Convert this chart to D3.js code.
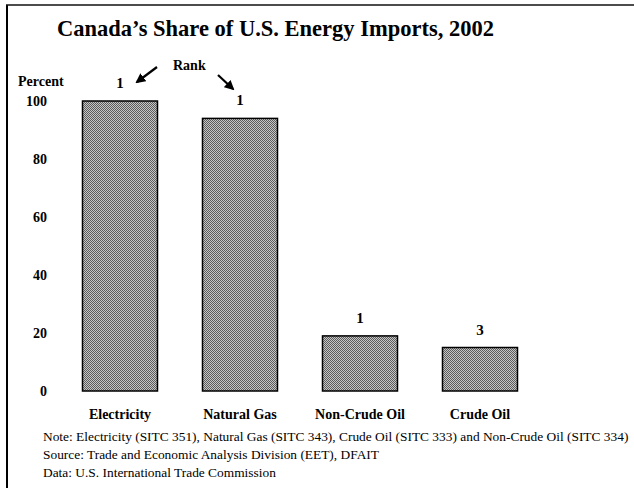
<!DOCTYPE html>
<html>
<head>
<meta charset="utf-8">
<script src="https://cdn.jsdelivr.net/npm/d3@7/dist/d3.min.js"></script>
<style>
  body { margin: 0; background: #fff; }
  svg text { font-family: "Liberation Serif", "Times New Roman", serif; fill: #000; }
</style>
</head>
<body>
<div id="chart"></div>
<script>
// data
const categories = ['Electricity', 'Natural Gas', 'Non-Crude Oil', 'Crude Oil'];
const shares = [100, 94, 19, 15];
const ranks = ['1', '1', '1', '3'];
const yTicks = [0, 20, 40, 60, 80, 100];
const notes = [
    'Note: Electricity (SITC 351), Natural Gas (SITC 343), Crude Oil (SITC 333) and Non-Crude Oil (SITC 334)',
    'Source: Trade and Economic Analysis Division (EET), DFAIT',
    'Data: U.S. International Trade Commission'
];

const width = 634;
const height = 488;
const serif = '"Liberation Serif", "Times New Roman", serif';

let svg = d3.select('#chart')
    .append('svg')
    .attr('width', width)
    .attr('height', height);

let defs = svg.append('defs');

// halftone-like fill for the bars
let pattern = defs.append('pattern')
    .attr('id', 'dither')
    .attr('patternUnits', 'userSpaceOnUse')
    .attr('width', 2)
    .attr('height', 2);
pattern.append('rect').attr('width', 2).attr('height', 2).style('fill', '#c6c6c6');
pattern.append('rect').attr('width', 1).attr('height', 1).style('fill', '#5c5c5c');
pattern.append('rect').attr('x', 1).attr('y', 1).attr('width', 1).attr('height', 1).style('fill', '#5c5c5c');

defs.append('marker')
    .attr('id', 'arrow')
    .attr('viewBox', '0 0 10 10')
    .attr('refX', 8).attr('refY', 5)
    .attr('markerWidth', 4.5).attr('markerHeight', 4.5)
    .attr('orient', 'auto')
    .append('path')
    .attr('d', 'M0,0L10,5L0,10z')
    .style('fill', '#000');

// frame (left and top rule)
svg.append('line')
    .attr('x1', 7).attr('x2', 7).attr('y1', 5).attr('y2', height)
    .style('stroke', '#000').style('stroke-width', 2);
svg.append('line')
    .attr('x1', 6).attr('x2', width).attr('y1', 5).attr('y2', 5)
    .style('stroke', '#111').style('stroke-width', 1.6);

svg.append('text')
    .attr('x', 57)
    .attr('y', 36)
    .style('font-family', serif)
    .style('font-size', '22.5px')
    .style('font-weight', 'bold')
    .text('Canada\u2019s Share of U.S. Energy Imports, 2002');

let x = d3.scaleBand()
    .domain(categories)
    .range([60, 540])
    .paddingInner(0.375)
    .paddingOuter(0.1875);

let y = d3.scaleLinear()
    .domain([0, 100])
    .range([391, 101]);

// y axis: labels only
let yAxis = svg.append('g')
    .attr('transform', 'translate(47,0)')
    .call(d3.axisLeft(y).tickValues(yTicks).tickSize(0).tickPadding(0).tickFormat(d3.format('d')));
yAxis.attr('font-family', null);
yAxis.select('.domain').remove();
yAxis.selectAll('text')
    .style('font-family', serif)
    .style('font-size', '14px')
    .style('font-weight', 'bold');

svg.append('text')
    .attr('x', 18)
    .attr('y', 86)
    .style('font-family', serif)
    .style('font-size', '14px')
    .style('font-weight', 'bold')
    .text('Percent');

// bars
svg.selectAll('.bar')
    .data(categories)
    .enter()
    .append('rect')
    .classed('bar', true)
    .attr('x', d => x(d))
    .attr('width', x.bandwidth())
    .attr('y', (d, i) => y(shares[i]))
    .attr('height', (d, i) => y(0) - y(shares[i]))
    .style('fill', 'url(#dither)')
    .style('stroke', '#000')
    .style('stroke-width', 1.5);

// rank labels
svg.selectAll('.rank')
    .data(categories)
    .enter()
    .append('text')
    .classed('rank', true)
    .attr('x', d => x(d) + x.bandwidth() / 2)
    .attr('y', (d, i) => y(shares[i]) - 13)
    .attr('text-anchor', 'middle')
    .style('font-family', serif)
    .style('font-size', '15px')
    .style('font-weight', 'bold')
    .text((d, i) => ranks[i]);

// category labels
svg.selectAll('.cat')
    .data(categories)
    .enter()
    .append('text')
    .classed('cat', true)
    .attr('x', d => x(d) + x.bandwidth() / 2)
    .attr('y', 419)
    .attr('text-anchor', 'middle')
    .style('font-family', serif)
    .style('font-size', '14px')
    .style('font-weight', 'bold')
    .text(d => d);

// "Rank" callout with arrows
svg.append('text')
    .attr('x', 173)
    .attr('y', 70)
    .style('font-family', serif)
    .style('font-size', '14px')
    .style('font-weight', 'bold')
    .text('Rank');

let arrows = [[157, 67, 137, 82], [218, 75, 233, 89]];
svg.selectAll('.arrow')
    .data(arrows)
    .enter()
    .append('line')
    .classed('arrow', true)
    .attr('x1', d => d[0]).attr('y1', d => d[1])
    .attr('x2', d => d[2]).attr('y2', d => d[3])
    .style('stroke', '#000')
    .style('stroke-width', 2.2)
    .attr('marker-end', 'url(#arrow)');

// footnotes
svg.selectAll('.note')
    .data(notes)
    .enter()
    .append('text')
    .classed('note', true)
    .attr('x', 43)
    .attr('y', (d, i) => 441 + i * 18)
    .style('font-family', serif)
    .style('font-size', '13.4px')
    .text(d => d);
</script>
</body>
</html>
